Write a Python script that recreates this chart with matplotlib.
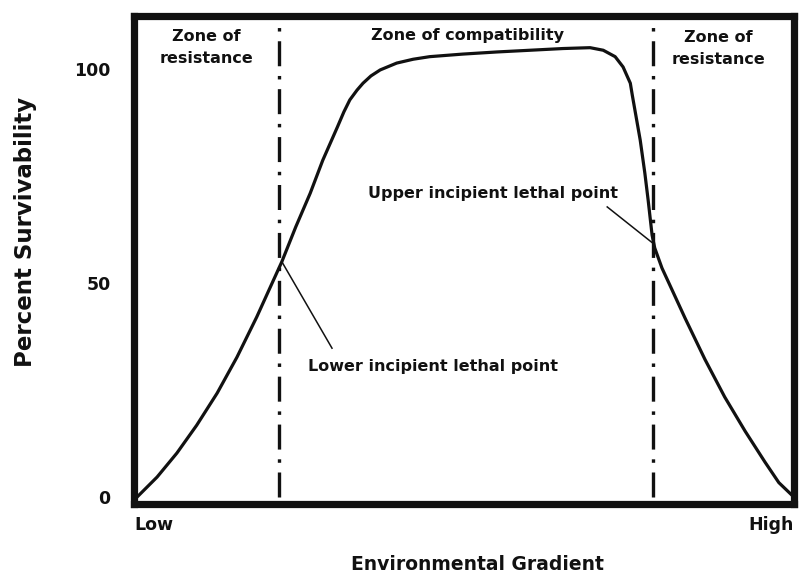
import matplotlib
matplotlib.use('Agg')
import matplotlib.pyplot as plt

# curve (gradient 0-100, percent survivability)
gradient = [0.45, 3.5, 6.5, 9.5, 12.6, 15.6, 18.6, 22.4, 24.5, 26.7, 28.6, 30.8,
            31.8, 32.7, 33.8, 34.7, 35.9, 37.3, 39.8, 42.3, 44.8, 49.8, 55.0,
            60.0, 65.0, 69.1, 71.1, 72.9, 74.1, 75.2, 75.5, 75.9, 76.7, 77.4,
            77.9, 78.5, 78.9, 80.0, 81.2, 83.5, 86.5, 89.5, 92.6, 95.6, 97.7, 100.0]
survival = [0.0, 4.7, 10.3, 16.8, 24.3, 32.7, 42.1, 55.0, 63.1, 71.0, 78.7, 86.4,
            90.0, 92.8, 95.1, 96.7, 98.4, 99.8, 101.4, 102.3, 102.9, 103.5, 104.0,
            104.4, 104.8, 105.0, 104.4, 102.9, 100.5, 96.7, 93.9, 90.4, 83.4, 75.7,
            69.4, 61.2, 58.2, 53.5, 49.5, 41.8, 32.2, 23.4, 15.4, 8.2, 3.4, 0.0]

lethal_x = [22.0, 78.6]          # lower / upper incipient lethal points
ytick_vals = [0, 50, 100]
xtick_vals = [0, 100]
xtick_labels = ['Low', 'High']

plt.rcParams['lines.scale_dashes'] = False
ink = '#111111'

fig = plt.figure(figsize=(8.01, 5.80), dpi=100)
ax = fig.add_axes([134/801, 76/580, 660/801, 488/580])

ax.plot(gradient, survival, color=ink, lw=2.3, solid_joinstyle='round',
        solid_capstyle='round')

for xv in lethal_x:
    ln, = ax.plot([xv, xv], [0, 110.5], color=ink, lw=2.4)
    ln.set_dashes((18, 7, 2.5, 7))

# leader lines to labels
ax.plot([22.4, 30.0], [55.0, 34.8], color=ink, lw=1.1)
ax.plot([78.8, 71.7], [59.1, 67.8], color=ink, lw=1.1)

tkw = dict(color=ink, fontweight='bold', fontsize=11.5)
ax.text(26.4, 30.6, 'Lower incipient lethal point', ha='left', va='center', **tkw)
ax.text(35.5, 71.0, 'Upper incipient lethal point', ha='left', va='center', **tkw)
ax.text(11.0, 105.0, 'Zone of\nresistance', ha='center', va='center', linespacing=1.6, **tkw)
ax.text(50.6, 107.9, 'Zone of compatibility', ha='center', va='center', **tkw)
ax.text(88.5, 104.8, 'Zone of\nresistance', ha='center', va='center', linespacing=1.65, **tkw)

ax.set_xlim(0, 100)
ax.set_ylim(-1.6, 112.4)

ax.set_yticks(ytick_vals)
ax.set_yticklabels([str(v) for v in ytick_vals], fontsize=12.5, fontweight='bold', color=ink)
ax.set_xticks(xtick_vals)
ax.set_xticklabels(xtick_labels, fontsize=12.5, fontweight='bold', color=ink)
for lab, ha in zip(ax.get_xticklabels(), ['left', 'right']):
    lab.set_ha(ha)
ax.tick_params(axis='y', length=0, pad=17)
ax.tick_params(axis='x', length=0, pad=9)

for sp in ax.spines.values():
    sp.set_linewidth(5.2)
    sp.set_color(ink)

ax.set_ylabel('Percent Survivability', fontsize=16.5, fontweight='bold', color=ink,
              va='center')
ax.yaxis.set_label_coords(-0.165, 0.557)
ax.set_xlabel('Environmental Gradient', fontsize=13.5, fontweight='bold', color=ink,
              va='center')
ax.xaxis.set_label_coords(0.52, -0.125)

fig.savefig('out.png', dpi=100)
